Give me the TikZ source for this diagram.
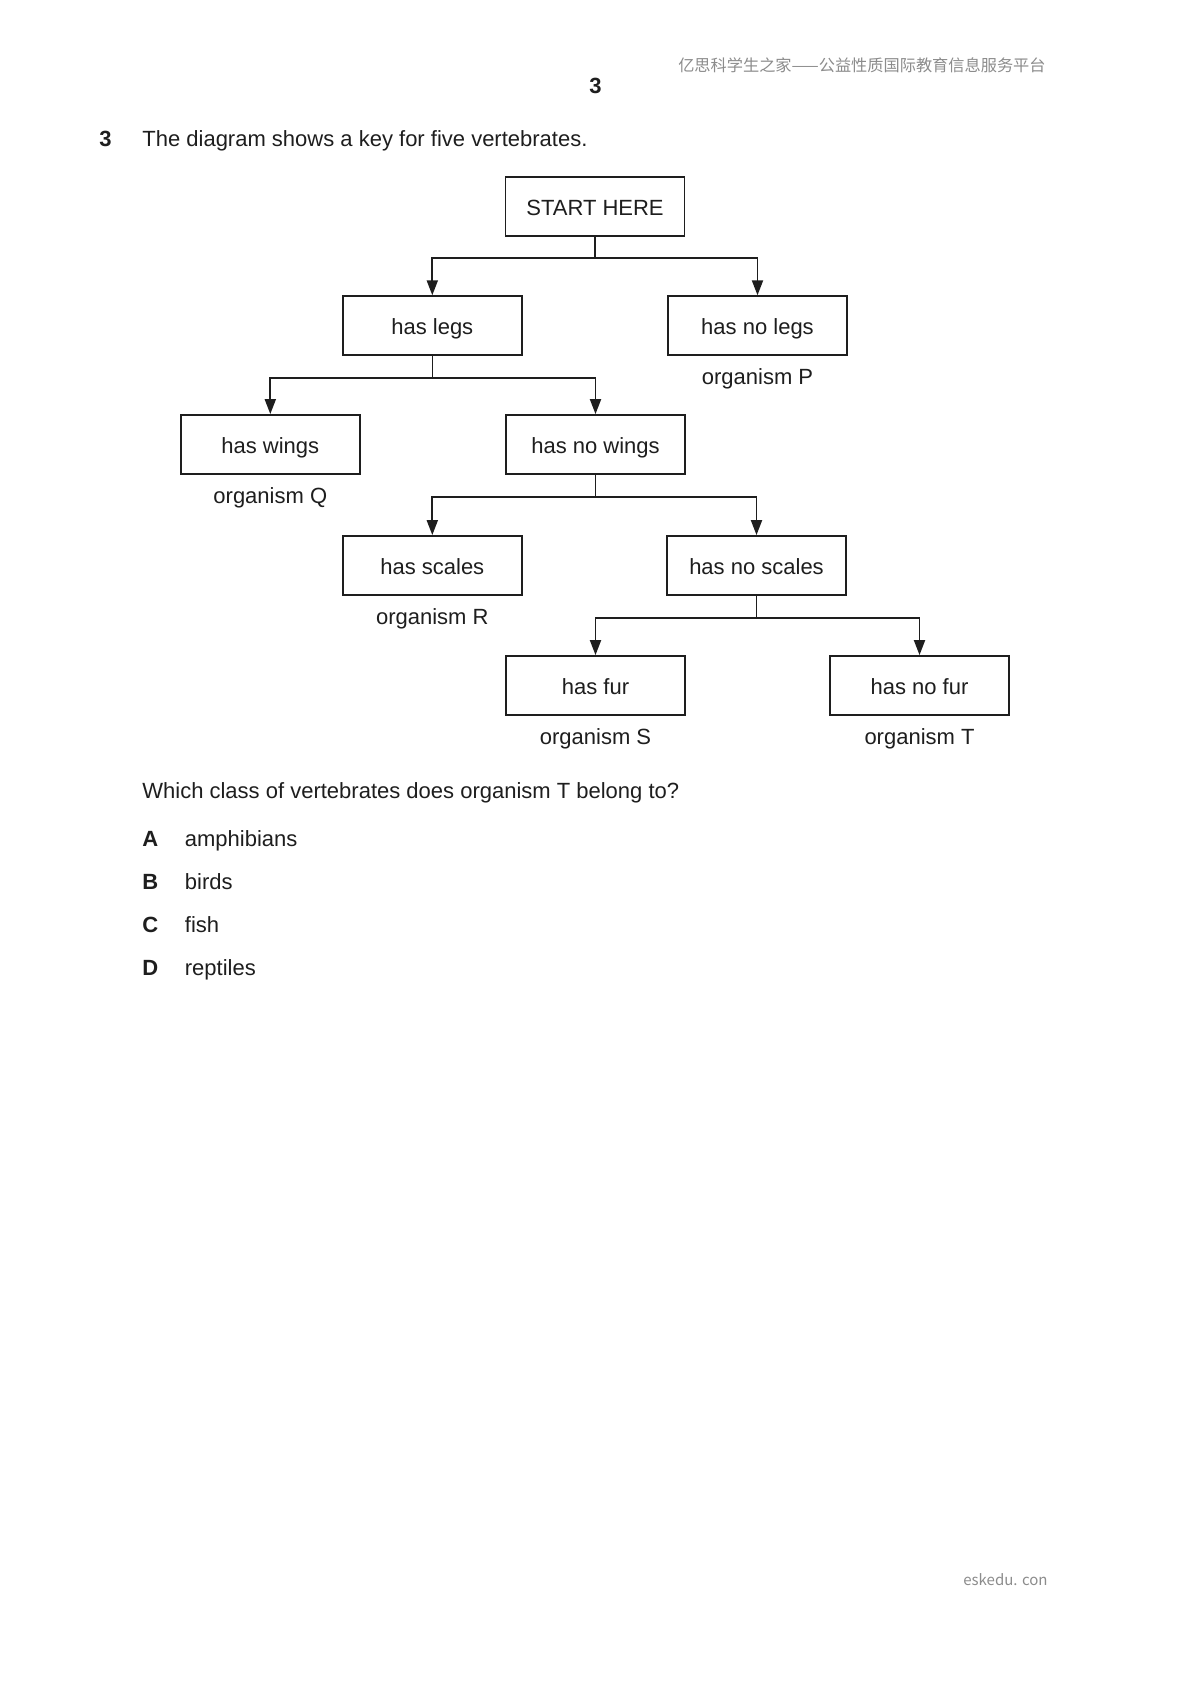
\documentclass[tikz,border=0pt]{standalone}
\usepackage{fontspec}
\setmainfont{Liberation Sans}
\newfontfamily\cjkfont{Noto Sans CJK SC}
\usetikzlibrary{arrows.meta,calc}
\definecolor{wmgray}{RGB}{140,140,140}
\definecolor{ink}{RGB}{30,30,30}
\begin{document}
\begin{tikzpicture}[x=0.5pt,y=-0.5pt,
  keybox/.style={draw=ink, line width=0.9pt, minimum width=89.5pt, minimum height=29.5pt,
    inner sep=0pt, font=\fontsize{11}{13}\selectfont, text height=9pt, text depth=0pt, text=ink},
  orglab/.style={anchor=base, inner sep=0pt, font=\fontsize{11}{13}\selectfont, text=ink},
  stemline/.style={draw=ink, line width=0.65pt},
  branch/.style={draw=ink, line width=0.95pt, -{Triangle[length=7.5pt,width=5.5pt]}},
  body/.style={anchor=base west, inner sep=0pt, font=\fontsize{11}{13}\selectfont, text=ink},
  boldbody/.style={anchor=base west, inner sep=0pt, font=\fontsize{11}{13}\selectfont\bfseries, text=ink},
  wmark/.style={anchor=base east, inner sep=0pt, text=wmgray}
]
\useasboundingbox[fill=white] (0,0) rectangle (1190,1684);

% header and footer marks
\node[wmark, font=\cjkfont\fontsize{8.1}{9}\selectfont] (hdr) at (1046,72) {亿思科学生之家——公益性质国际教育信息服务平台};
\node[wmark, font=\cjkfont\fontsize{7.5}{9}\selectfont] (site) at (1048,1585) {eskedu. con};

% page number and question
\node[anchor=base, inner sep=0pt, font=\fontsize{11}{13}\selectfont\bfseries, text=ink] (pg) at (595.5,94) {3};
\node[boldbody] (qnum) at (99,146.5) {3};
\node[body] (qtext) at (142,146.5) {The diagram shows a key for five vertebrates.};

% key boxes
\node[keybox] (start) at (595,206.5) {START HERE};
\node[keybox] (legs) at (432.3,325.7) {has legs};
\node[keybox] (nolegs) at (757.5,325.7) {has no legs};
\node[keybox] (wings) at (270.3,444.5) {has wings};
\node[keybox] (nowings) at (595.5,444.5) {has no wings};
\node[keybox] (scales) at (432.3,565.5) {has scales};
\node[keybox] (noscales) at (756.5,565.5) {has no scales};
\node[keybox] (fur) at (595.5,685.5) {has fur};
\node[keybox] (nofur) at (919.5,685.5) {has no fur};

% organism labels
\node[orglab] (orgP) at ($(nolegs.south)+(0,28)$) {organism P};
\node[orglab] (orgQ) at ($(wings.south)+(0,29)$) {organism Q};
\node[orglab] (orgR) at ($(scales.south)+(0,29)$) {organism R};
\node[orglab] (orgS) at ($(fur.south)+(0,29)$) {organism S};
\node[orglab] (orgT) at ($(nofur.south)+(0,29)$) {organism T};

% connectors
\coordinate (j1) at ($(start.south)+(0,21.5)$);
\draw[stemline] (start.south) -- (j1);
\draw[branch] (j1) -| (legs.north);
\draw[branch] (j1) -| (nolegs.north);

\coordinate (j2) at ($(legs.south)+(0,22)$);
\draw[stemline] (legs.south) -- (j2);
\draw[branch] (j2) -| (wings.north);
\draw[branch] (j2) -| (nowings.north);

\coordinate (j3) at ($(nowings.south)+(0,22.5)$);
\draw[stemline] (nowings.south) -- (j3);
\draw[branch] (j3) -| (scales.north);
\draw[branch] (j3) -| (noscales.north);

\coordinate (j4) at ($(noscales.south)+(0,21.7)$);
\draw[stemline] (noscales.south) -- (j4);
\draw[branch] (j4) -| (fur.north);
\draw[branch] (j4) -| (nofur.north);

% question and options
\node[body] (ask) at (142,798.7) {Which class of vertebrates does organism T belong to?};
\node[boldbody] (la) at (142,846) {A};
\node[body] (ta) at (184.5,846) {amphibians};
\node[boldbody] (lb) at (142,889.3) {B};
\node[body] (tb) at (184.5,889.3) {birds};
\node[boldbody] (lc) at (142,932.5) {C};
\node[body] (tc) at (184.5,932.5) {fish};
\node[boldbody] (ld) at (142,975.5) {D};
\node[body] (td) at (184.5,975.5) {reptiles};
\end{tikzpicture}
\end{document}
